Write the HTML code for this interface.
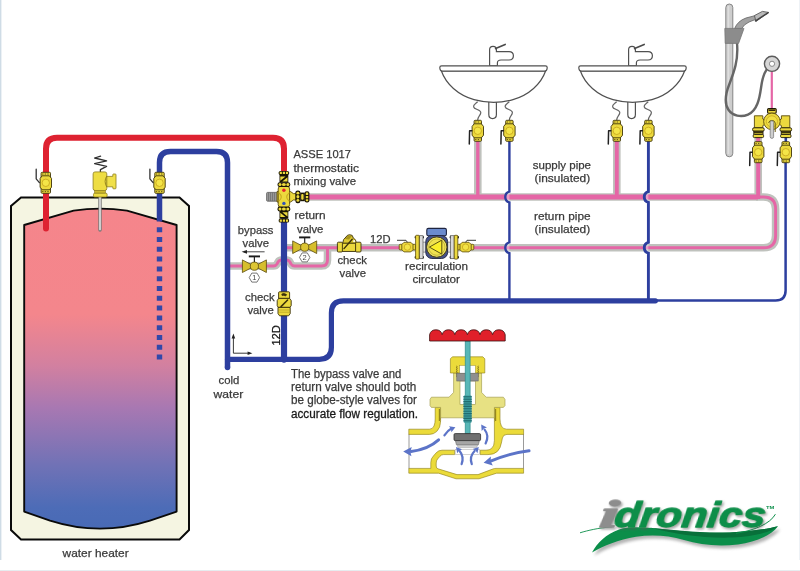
<!DOCTYPE html>
<html lang="en">
<head>
<meta charset="utf-8">
<title>Hot water recirculation with thermostatic mixing valve</title>
<style>
html,body{margin:0;padding:0;background:#fff;}
body{width:800px;height:571px;overflow:hidden;}
svg{display:block;opacity:0.999;}
svg text{font-family:"Liberation Sans",sans-serif;}
</style>
</head>
<body>
<svg width="800" height="571" viewBox="0 0 800 571">
<defs>
<linearGradient id="tankg" x1="0" y1="208" x2="0" y2="530" gradientUnits="userSpaceOnUse">
<stop offset="0" stop-color="#f5858b"/>
<stop offset="0.33" stop-color="#f4868c"/>
<stop offset="0.49" stop-color="#d280a0"/>
<stop offset="0.62" stop-color="#a878b2"/>
<stop offset="0.8" stop-color="#7072b6"/>
<stop offset="0.93" stop-color="#4d6cb7"/>
<stop offset="1" stop-color="#486ab5"/>
</linearGradient>
<filter id="blur" x="-10%" y="-30%" width="120%" height="160%"><feGaussianBlur stdDeviation="1.6"/></filter>
<filter id="ds" x="-10%" y="-30%" width="120%" height="170%"><feDropShadow dx="1.8" dy="1.8" stdDeviation="0.9" flood-color="#555" flood-opacity="0.5"/></filter>
</defs>
<rect width="800" height="571" fill="#fff"/>
<g id="tank">
<path d="M21 197.5 H179.5 L189 206 V530 L179.5 539.5 H21 L11 530 V206 Z" fill="#f5f5e2" stroke="#0a0a0a" stroke-width="2" stroke-linejoin="miter"/>
<path d="M24.2 225 L73.6 210.6 Q100 206.6 127 210.6 L176.6 225 V511.6 L150 520.6 Q100 536.6 50 520.6 L24.2 511.6 Z" fill="url(#tankg)" stroke="#0a0a0a" stroke-width="1.9" stroke-linejoin="round"/>
</g>
<path d="M306 197 H758" fill="none" stroke="#bfc2bd" stroke-width="7.6"/>
<path d="M477.8 197 V140" fill="none" stroke="#bfc2bd" stroke-width="7.6"/>
<path d="M616.8 197 V140" fill="none" stroke="#bfc2bd" stroke-width="7.6"/>
<path d="M758.2 199 V160" fill="none" stroke="#bfc2bd" stroke-width="7.6"/>
<path d="M756 197 H763.6 Q775.6 197 775.6 209 V235.4 Q775.6 247.7 763.6 247.7 H287 M327.5 247.7 V260 Q327.5 266 321.5 266 H294.6 Q292.2 266 291 264 L289.8 261.8 Q288.8 260 286.6 260 H281.4 Q279.2 260 278.2 261.8 L277 264 Q275.8 266 273.4 266 H228" fill="none" stroke="#bfc2bd" stroke-width="7.6"/>
<path d="M756 197 H763.6 Q775.6 197 775.6 209 V235.4 Q775.6 247.7 763.6 247.7 H287 M327.5 247.7 V260 Q327.5 266 321.5 266 H294.6 Q292.2 266 291 264 L289.8 261.8 Q288.8 260 286.6 260 H281.4 Q279.2 260 278.2 261.8 L277 264 Q275.8 266 273.4 266 H228" fill="none" stroke="#e566a6" stroke-width="2.9"/>
<path d="M477.8 197 V140" fill="none" stroke="#e566a6" stroke-width="3.3"/>
<path d="M616.8 197 V140" fill="none" stroke="#e566a6" stroke-width="3.9"/>
<path d="M758.2 199 V160" fill="none" stroke="#e566a6" stroke-width="4"/>
<path d="M306 197 H758" fill="none" stroke="#e566a6" stroke-width="5"/>
<path d="M771.8 70 V110" stroke="#e566a6" stroke-width="2.2" fill="none"/>
<path d="M509.4 191.6 A5.6 5.6 0 0 0 509.4 202.4 Z" fill="#fff" fill-opacity="0.35"/>
<path d="M509.4 242.29999999999998 A5.6 5.6 0 0 0 509.4 253.1 Z" fill="#fff" fill-opacity="0.35"/>
<path d="M509.4 140 V191.6 A5.6 5.6 0 0 0 509.4 202.4 V242.29999999999998 A5.6 5.6 0 0 0 509.4 253.1 V301" fill="none" stroke="#2d3f9f" stroke-width="2.4"/>
<path d="M648.4 191.6 A5.6 5.6 0 0 0 648.4 202.4 Z" fill="#fff" fill-opacity="0.35"/>
<path d="M648.4 242.29999999999998 A5.6 5.6 0 0 0 648.4 253.1 Z" fill="#fff" fill-opacity="0.35"/>
<path d="M648.4 140 V191.6 A5.6 5.6 0 0 0 648.4 202.4 V242.29999999999998 A5.6 5.6 0 0 0 648.4 253.1 V301" fill="none" stroke="#2d3f9f" stroke-width="2.9"/>
<path d="M785.6 160 V290.6 Q785.6 300.6 775.6 300.6 H655" fill="none" stroke="#2d3f9f" stroke-width="2.5"/>
<path d="M159.5 221.6 V162.6 Q159.5 151.6 170.5 151.6 H216.5 Q227.5 151.6 227.5 162.6 V367.6" fill="none" stroke="#2d3f9f" stroke-width="5.5"/>
<circle cx="227.5" cy="367.6" r="2.75" fill="#2d3f9f"/>
<path d="M159.5 227.2 V359.8" fill="none" stroke="#3048aa" stroke-width="5.4" stroke-dasharray="5 4.8"/>
<path d="M227.5 359.3 H319.4 Q331.4 359.3 331.4 347.3 V312.8 Q331.4 300.8 343.4 300.8 H655.4" fill="none" stroke="#2d3f9f" stroke-width="5.2" stroke-linecap="round"/>
<path d="M284 220 V359.6" fill="none" stroke="#2d3f9f" stroke-width="6.2" stroke-linecap="round"/>
<path d="M46 228.6 V148.8 Q46 137.8 57 137.8 H273 Q284 137.8 284 148.8 V173" fill="none" stroke="#de2231" stroke-width="6" stroke-linecap="round"/>
<g transform="translate(45.8 182.8)"><rect x="-4.7" y="-10.5" width="9.4" height="21" rx="1" fill="#ecd93e" stroke="#3e340a" stroke-width="0.9"/><path d="M-3.6 -7 H3.6 L5.7 -4.4 V4.4 L3.6 7 H-3.6 L-5.7 4.4 V-4.4 Z" fill="#ecd93e" stroke="#3e340a" stroke-width="0.9" stroke-linejoin="round"/><circle cx="0" cy="0" r="3.7" fill="#f4e548" stroke="#c9a91f" stroke-width="0.9"/><path d="M-3.7 -8.8 H3.7 M-3.7 8.8 H3.7" stroke="#3e340a" stroke-width="0.8" stroke-dasharray="1.4 1.2" fill="none"/><path d="M-9.6 -13.6 V-4 L-6.4 -0.2" fill="none" stroke="#333" stroke-width="1.3" stroke-linecap="round" stroke-linejoin="round"/></g>
<g transform="translate(159.5 182.8)"><rect x="-4.7" y="-10.5" width="9.4" height="21" rx="1" fill="#ecd93e" stroke="#3e340a" stroke-width="0.9"/><path d="M-3.6 -7 H3.6 L5.7 -4.4 V4.4 L3.6 7 H-3.6 L-5.7 4.4 V-4.4 Z" fill="#ecd93e" stroke="#3e340a" stroke-width="0.9" stroke-linejoin="round"/><circle cx="0" cy="0" r="3.7" fill="#f4e548" stroke="#c9a91f" stroke-width="0.9"/><path d="M-3.7 -8.8 H3.7 M-3.7 8.8 H3.7" stroke="#3e340a" stroke-width="0.8" stroke-dasharray="1.4 1.2" fill="none"/><path d="M-9.6 -13.6 V-4 L-6.4 -0.2" fill="none" stroke="#333" stroke-width="1.3" stroke-linecap="round" stroke-linejoin="round"/></g>
<g id="relief">
<path d="M100 230 V197" stroke="#777" stroke-width="3.4" stroke-linecap="round"/>
<path d="M100 229.4 V197" stroke="#d8d8d8" stroke-width="1.8" stroke-linecap="round"/>
<path d="M100.4 172.2 V169.6 L106.6 166.4 L94.6 163.6 L106.6 160.8 L94.6 158 L100.6 156.2" fill="none" stroke="#2e2e2e" stroke-width="1.3" stroke-linejoin="round" stroke-linecap="round"/>
<path d="M106.4 176.4 H112.8 V174.6 Q112.8 174 113.6 174 H115.2 Q116 174 116 174.8 V188 Q116 188.8 115.2 188.8 H113.6 Q112.8 188.8 112.8 188.2 V186.8 H106.4 Z" fill="#f0e04a" stroke="#8d7d1c" stroke-width="0.8" stroke-linejoin="round"/>
<rect x="93.1" y="171.9" width="13.7" height="18.6" rx="2" fill="#eedd42" stroke="#8d7d1c" stroke-width="0.8"/>
<path d="M106.8 176 Q103.4 181.4 106.8 187" fill="none" stroke="#8d7d1c" stroke-width="0.9"/>
<rect x="94.6" y="190.4" width="10.8" height="3.2" fill="#cdb92c" stroke="#8d7d1c" stroke-width="0.6"/>
<rect x="93.5" y="193.2" width="13.6" height="3.8" rx="1.2" fill="#eedd42" stroke="#8d7d1c" stroke-width="0.8"/>
</g>
<g id="mixv">
<rect x="266.6" y="192.4" width="11" height="8.8" rx="1" fill="#9c9c9c" stroke="#5a5a5a" stroke-width="0.8"/>
<path d="M268.6 192.6 V201 M270.6 192.6 V201 M272.6 192.6 V201 M274.6 192.6 V201" stroke="#6a6a6a" stroke-width="0.8"/>
<path d="M277 191.6 H290.6 L293.4 193.6 H296 V200 H293.4 L290.6 202 H277 Z" fill="#ecd93e" stroke="#5a4a0c" stroke-width="0.9"/>
<rect x="278.2" y="186" width="11.4" height="21.6" rx="3" fill="#ecd93e" stroke="#5a4a0c" stroke-width="0.9"/>
<path d="M278.6 192.6 Q284 197 278.6 201.2 M289.4 192.6 Q284 197 289.4 201.2" fill="none" stroke="#c9a91f" stroke-width="1.1"/>
<g transform="translate(283.9 171) scale(1 1)"><rect x="-5.2" y="0" width="10.4" height="4" rx="1.6" fill="#1a1505"/><path d="M-4.2 1.9 H4.2" stroke="#ecd93e" stroke-width="2.2" stroke-dasharray="2.2 0.9" stroke-linecap="butt"/><rect x="-4.4" y="4" width="8.8" height="7.6" fill="#1a1505"/><path d="M-3.6 5.6 H1.6 L-3.6 9.8 Z M3.6 10.4 H-1.6 L3.6 6.2 Z" fill="#ecd93e"/><rect x="-6.4" y="11.2" width="12.8" height="4.8" rx="2.2" fill="#1a1505"/><ellipse cx="-3.9" cy="13.6" rx="1.5" ry="1.5" fill="#ecd93e"/><ellipse cx="0" cy="13.6" rx="2" ry="1.5" fill="#ecd93e"/><ellipse cx="3.9" cy="13.6" rx="1.5" ry="1.5" fill="#ecd93e"/></g>
<g transform="translate(283.9 222.6) scale(1 -1)"><rect x="-5.2" y="0" width="10.4" height="4" rx="1.6" fill="#1a1505"/><path d="M-4.2 1.9 H4.2" stroke="#ecd93e" stroke-width="2.2" stroke-dasharray="2.2 0.9" stroke-linecap="butt"/><rect x="-4.4" y="4" width="8.8" height="7.6" fill="#1a1505"/><path d="M-3.6 5.6 H1.6 L-3.6 9.8 Z M3.6 10.4 H-1.6 L3.6 6.2 Z" fill="#ecd93e"/><rect x="-6.4" y="11.2" width="12.8" height="4.8" rx="2.2" fill="#1a1505"/><ellipse cx="-3.9" cy="13.6" rx="1.5" ry="1.5" fill="#ecd93e"/><ellipse cx="0" cy="13.6" rx="2" ry="1.5" fill="#ecd93e"/><ellipse cx="3.9" cy="13.6" rx="1.5" ry="1.5" fill="#ecd93e"/></g>
<rect x="295.4" y="190.4" width="5" height="12.8" rx="2.2" fill="#1a1505"/>
<ellipse cx="297.9" cy="193.2" rx="1.5" ry="1.4" fill="#ecd93e"/><ellipse cx="297.9" cy="196.8" rx="1.5" ry="1.8" fill="#ecd93e"/><ellipse cx="297.9" cy="200.4" rx="1.5" ry="1.4" fill="#ecd93e"/>
<rect x="300.2" y="192.6" width="4.6" height="8.6" fill="#1a1505"/>
<rect x="301.2" y="194" width="2.4" height="5.8" rx="1" fill="#ecd93e"/>
<rect x="304.6" y="191.2" width="4.8" height="11.4" rx="2" fill="#1a1505"/>
<path d="M307 192.6 V201.2" stroke="#ecd93e" stroke-width="2.4" stroke-dasharray="2.4 0.9"/>
<circle cx="283.9" cy="190.2" r="1.7" fill="#e8242c"/>
<circle cx="283.9" cy="203.4" r="1.7" fill="#3050b8"/>
</g>
<g transform="translate(254.4 266.2)"><path d="M-12 -6.3 L0 0 L-12 6.3 Z M12 -6.3 L0 0 L12 6.3 Z" fill="#d6be2c" stroke="#5a4a0c" stroke-width="0.8" stroke-linejoin="round"/><path d="M0 -4 V-9.6" stroke="#222" stroke-width="1.2"/><path d="M-5.6 -9.8 H5.6" stroke="#1a1a1a" stroke-width="1.9"/><circle cx="0" cy="0" r="4.1" fill="#dcc534" stroke="#5a4a0c" stroke-width="0.8"/></g>
<polygon points="259.60,277.60 257.00,282.10 251.80,282.10 249.20,277.60 251.80,273.10 257.00,273.10" fill="#fff" stroke="#555" stroke-width="0.8"/>
<text x="254.4" y="280.20000000000005" font-size="7.5" text-anchor="middle" fill="#444">1</text>
<g transform="translate(304.7 247.2)"><path d="M-12 -6.3 L0 0 L-12 6.3 Z M12 -6.3 L0 0 L12 6.3 Z" fill="#d6be2c" stroke="#5a4a0c" stroke-width="0.8" stroke-linejoin="round"/><path d="M0 -4 V-9.6" stroke="#222" stroke-width="1.2"/><path d="M-5.6 -9.8 H5.6" stroke="#1a1a1a" stroke-width="1.9"/><circle cx="0" cy="0" r="4.1" fill="#dcc534" stroke="#5a4a0c" stroke-width="0.8"/></g>
<polygon points="309.90,257.40 307.30,261.90 302.10,261.90 299.50,257.40 302.10,252.90 307.30,252.90" fill="#fff" stroke="#555" stroke-width="0.8"/>
<text x="304.7" y="260.0" font-size="7.5" text-anchor="middle" fill="#444">2</text>
<path d="M264.6 251.8 H244" stroke="#333" stroke-width="0.9" fill="none"/>
<path d="M241.6 251.8 L247 249.9 L247 253.7 Z" fill="#222"/>
<g id="chk_h">
<path d="M342.6 243.4 L343.6 239.6 L347.6 235.2 Q349.6 234.2 352.2 235.4 L353.4 238.2 Q356 238.8 356.4 243.4 Z" fill="#dcc832" stroke="#3a300a" stroke-width="0.9" stroke-linejoin="round"/>
<path d="M344.8 239 L348.2 235.6 L352 236 L349 239.6 Z" fill="#a8941c"/>
<circle cx="354.2" cy="241.2" r="1.1" fill="#fff" opacity="0.9"/>
<rect x="341.6" y="243.2" width="14.6" height="8.2" fill="#ecd93e" stroke="#3a300a" stroke-width="0.9"/>
<rect x="337.4" y="242.2" width="5" height="9.8" rx="1" fill="#ecd93e" stroke="#3a300a" stroke-width="0.9"/>
<rect x="355.6" y="242.2" width="5.4" height="9.8" rx="1" fill="#ecd93e" stroke="#3a300a" stroke-width="0.9"/>
<path d="M344 248.6 L352.2 239.2" stroke="#3a300a" stroke-width="1.4" stroke-linecap="round"/>
</g>
<g id="chk_v">
<path d="M279.4 291.8 H288.8 Q289.6 291.8 289.6 292.8 V298.4 H278.6 V292.8 Q278.6 291.8 279.4 291.8 Z" fill="#ecd93e" stroke="#3a300a" stroke-width="0.9" stroke-linejoin="round"/>
<path d="M278.6 298.4 H289.6 L291.2 300.6 V305.6 L290 307.4 H278.2 L277.2 305.6 V300.6 Z" fill="#ecd93e" stroke="#3a300a" stroke-width="0.9" stroke-linejoin="round"/>
<path d="M278 307.4 H290.2 V313.6 L288.6 315.8 H279.6 L278 313.6 Z" fill="#ecd93e" stroke="#3a300a" stroke-width="0.9" stroke-linejoin="round"/>
<path d="M279 310 H289.4 M279 312.2 H289.4" stroke="#b09c20" stroke-width="0.7"/>
<path d="M281 306.6 L287.6 300" stroke="#3a300a" stroke-width="1.5" stroke-linecap="round"/>
<path d="M281.8 294 Q284 292.8 286.6 294.6 L285.6 296 Q283.8 294.8 282.2 295.6 Z" fill="#3a300a" stroke="#3a300a" stroke-width="0.8" stroke-linejoin="round"/>
</g>
<text x="370" y="243.4" font-size="11.6" fill="#3a3a3a" stroke="#3a3a3a" stroke-width="0.25" text-anchor="start" textLength="20.5" lengthAdjust="spacingAndGlyphs">12D</text>
<text transform="translate(280.4 345.6) rotate(-90)" font-size="11.6" fill="#111" stroke="#111" stroke-width="0.25" textLength="20.5" lengthAdjust="spacingAndGlyphs">12D</text>
<path d="M233.4 336 V353.2 H250" fill="none" stroke="#222" stroke-width="0.9"/>
<path d="M233.4 333.6 L231.6 338.4 H235.2 Z M252.4 353.2 L247.6 351.4 V355 Z" fill="#222"/>
<g id="circ">
<rect x="399.2" y="244.29999999999998" width="16.4" height="5.6" rx="1" fill="#ecd93e" stroke="#5a4a0c" stroke-width="0.8"/><path d="M404.0 242.29999999999998 H410.79999999999995 L413.0 244.5 V249.7 L410.79999999999995 251.9 H404.0 L401.79999999999995 249.7 V244.5 Z" fill="#ecd93e" stroke="#5a4a0c" stroke-width="0.8" stroke-linejoin="round"/><circle cx="407.4" cy="247.1" r="3.2" fill="#f3e347" stroke="#c9a91f" stroke-width="0.9"/><path d="M407.4 242.29999999999998 L406.0 240.29999999999998 H397.0" fill="none" stroke="#3a3a3a" stroke-width="1" stroke-linejoin="round"/>
<rect x="457.40000000000003" y="244.29999999999998" width="16.4" height="5.6" rx="1" fill="#ecd93e" stroke="#5a4a0c" stroke-width="0.8"/><path d="M462.20000000000005 242.29999999999998 H469.0 L471.20000000000005 244.5 V249.7 L469.0 251.9 H462.20000000000005 L460.0 249.7 V244.5 Z" fill="#ecd93e" stroke="#5a4a0c" stroke-width="0.8" stroke-linejoin="round"/><circle cx="465.6" cy="247.1" r="3.2" fill="#f3e347" stroke="#c9a91f" stroke-width="0.9"/><path d="M465.6 242.29999999999998 L467.0 240.29999999999998 H476.0" fill="none" stroke="#3a3a3a" stroke-width="1" stroke-linejoin="round"/>
<rect x="422.6" y="242.1" width="28.6" height="10" fill="#e4e4e4" stroke="#777" stroke-width="0.7"/>
<rect x="414.6" y="235.9" width="9.4" height="2.6" rx="1" fill="#222"/>
<rect x="414.6" y="255.9" width="9.4" height="2.6" rx="1" fill="#222"/>
<rect x="419.4" y="235.7" width="3.6" height="23" fill="#d9d9d9" stroke="#555" stroke-width="0.7"/>
<rect x="415.6" y="235.29999999999998" width="3.6" height="23.8" rx="0.8" fill="#ecd93e" stroke="#5a4a0c" stroke-width="0.8"/>
<rect x="449.6" y="235.9" width="9.4" height="2.6" rx="1" fill="#222"/>
<rect x="449.6" y="255.9" width="9.4" height="2.6" rx="1" fill="#222"/>
<rect x="450.6" y="235.7" width="3.6" height="23" fill="#d9d9d9" stroke="#555" stroke-width="0.7"/>
<rect x="454.2" y="235.29999999999998" width="3.6" height="23.8" rx="0.8" fill="#ecd93e" stroke="#5a4a0c" stroke-width="0.8"/>
<rect x="426.8" y="228.4" width="19.6" height="7.4" rx="1.6" fill="#6b8bcd" stroke="#1e2440" stroke-width="1.1"/>
<rect x="425.8" y="235.5" width="21.8" height="23" rx="6" fill="#46528a" stroke="#1e2440" stroke-width="0.9"/>
<circle cx="436.8" cy="247.1" r="10.2" fill="#eee468" stroke="#4a4210" stroke-width="1"/>
<circle cx="436.8" cy="247.1" r="8.2" fill="#efe250" stroke="#b8a62a" stroke-width="0.7"/>
<path d="M429.4 247.1 L441.8 240.1 V254.1 Z" fill="#fbef2a" stroke="#4a4210" stroke-width="0.9" stroke-linejoin="round"/>
</g>
<g transform="translate(0 0)" fill="#fff" stroke="#505050" stroke-width="1.2"><path d="M477.6 101.6 C476.6 103 473.20000000000005 104.4 473.6 106.8 C474.0 109.6 481.0 109.6 480.8 112.6 C480.6 115.6 477.6 116.6 477.6 120.4" fill="none" stroke="#666" stroke-width="1.2"/><path d="M509.2 101.6 C508.2 103 504.8 104.4 505.2 106.8 C505.59999999999997 109.6 512.6 109.6 512.4 112.6 C512.2 115.6 509.2 116.6 509.2 120.4" fill="none" stroke="#666" stroke-width="1.2"/><path d="M488.8 100 V114.6 Q488.8 118.6 492.6 118.6 Q496.4 118.6 496.4 114.6 V100 Z"/><path d="M441.4 71 C446 84 458 95 474 99.6 C487 103.2 500 103.2 513 99.6 C529 95 541 84 545.6 71 Z"/><path d="M489.6 65.8 V49.8 Q489.6 46.4 493 46.4 Q496.4 46.4 496.4 49.8 V51.6 H509 Q513.4 51.6 513.4 55.8 Q513.4 60 509 60 H501 Q497.4 60 497.4 63 V65.8 Z"/><path d="M495.6 48.6 L505.2 44.4" fill="none" stroke="#4a4a4a" stroke-width="1.6" stroke-linecap="round"/><path d="M441.6 65.8 H545.4 Q547.2 65.8 547.2 67.6 Q547.2 71.2 544.4 71.2 H442.6 Q439.8 71.2 439.8 67.6 Q439.8 65.8 441.6 65.8 Z"/></g>
<g transform="translate(139 0)" fill="#fff" stroke="#505050" stroke-width="1.2"><path d="M477.6 101.6 C476.6 103 473.20000000000005 104.4 473.6 106.8 C474.0 109.6 481.0 109.6 480.8 112.6 C480.6 115.6 477.6 116.6 477.6 120.4" fill="none" stroke="#666" stroke-width="1.2"/><path d="M509.2 101.6 C508.2 103 504.8 104.4 505.2 106.8 C505.59999999999997 109.6 512.6 109.6 512.4 112.6 C512.2 115.6 509.2 116.6 509.2 120.4" fill="none" stroke="#666" stroke-width="1.2"/><path d="M488.8 100 V114.6 Q488.8 118.6 492.6 118.6 Q496.4 118.6 496.4 114.6 V100 Z"/><path d="M441.4 71 C446 84 458 95 474 99.6 C487 103.2 500 103.2 513 99.6 C529 95 541 84 545.6 71 Z"/><path d="M489.6 65.8 V49.8 Q489.6 46.4 493 46.4 Q496.4 46.4 496.4 49.8 V51.6 H509 Q513.4 51.6 513.4 55.8 Q513.4 60 509 60 H501 Q497.4 60 497.4 63 V65.8 Z"/><path d="M495.6 48.6 L505.2 44.4" fill="none" stroke="#4a4a4a" stroke-width="1.6" stroke-linecap="round"/><path d="M441.6 65.8 H545.4 Q547.2 65.8 547.2 67.6 Q547.2 71.2 544.4 71.2 H442.6 Q439.8 71.2 439.8 67.6 Q439.8 65.8 441.6 65.8 Z"/></g>
<g transform="translate(477.8 130.8)"><rect x="-3.7" y="-10.5" width="7.4" height="21" rx="1" fill="#ecd93e" stroke="#3e340a" stroke-width="0.9"/><path d="M-3.6 -7 H3.6 L5.7 -4.4 V4.4 L3.6 7 H-3.6 L-5.7 4.4 V-4.4 Z" fill="#ecd93e" stroke="#3e340a" stroke-width="0.9" stroke-linejoin="round"/><circle cx="0" cy="0" r="3.7" fill="#f4e548" stroke="#c9a91f" stroke-width="0.9"/><path d="M-2.7 -8.8 H2.7 M-2.7 8.8 H2.7" stroke="#3e340a" stroke-width="0.8" stroke-dasharray="1.4 1.2" fill="none"/><path d="M-6 0 H-8.2 L-8.5 13.2" fill="none" stroke="#222" stroke-width="1.5" stroke-linecap="round" stroke-linejoin="round"/></g>
<g transform="translate(509.4 130.8)"><rect x="-3.7" y="-10.5" width="7.4" height="21" rx="1" fill="#ecd93e" stroke="#3e340a" stroke-width="0.9"/><path d="M-3.6 -7 H3.6 L5.7 -4.4 V4.4 L3.6 7 H-3.6 L-5.7 4.4 V-4.4 Z" fill="#ecd93e" stroke="#3e340a" stroke-width="0.9" stroke-linejoin="round"/><circle cx="0" cy="0" r="3.7" fill="#f4e548" stroke="#c9a91f" stroke-width="0.9"/><path d="M-2.7 -8.8 H2.7 M-2.7 8.8 H2.7" stroke="#3e340a" stroke-width="0.8" stroke-dasharray="1.4 1.2" fill="none"/><path d="M-6 0 H-8.2 L-8.5 13.2" fill="none" stroke="#222" stroke-width="1.5" stroke-linecap="round" stroke-linejoin="round"/></g>
<g transform="translate(616.8 130.8)"><rect x="-3.7" y="-10.5" width="7.4" height="21" rx="1" fill="#ecd93e" stroke="#3e340a" stroke-width="0.9"/><path d="M-3.6 -7 H3.6 L5.7 -4.4 V4.4 L3.6 7 H-3.6 L-5.7 4.4 V-4.4 Z" fill="#ecd93e" stroke="#3e340a" stroke-width="0.9" stroke-linejoin="round"/><circle cx="0" cy="0" r="3.7" fill="#f4e548" stroke="#c9a91f" stroke-width="0.9"/><path d="M-2.7 -8.8 H2.7 M-2.7 8.8 H2.7" stroke="#3e340a" stroke-width="0.8" stroke-dasharray="1.4 1.2" fill="none"/><path d="M-6 0 H-8.2 L-8.5 13.2" fill="none" stroke="#222" stroke-width="1.5" stroke-linecap="round" stroke-linejoin="round"/></g>
<g transform="translate(648.4 130.8)"><rect x="-3.7" y="-10.5" width="7.4" height="21" rx="1" fill="#ecd93e" stroke="#3e340a" stroke-width="0.9"/><path d="M-3.6 -7 H3.6 L5.7 -4.4 V4.4 L3.6 7 H-3.6 L-5.7 4.4 V-4.4 Z" fill="#ecd93e" stroke="#3e340a" stroke-width="0.9" stroke-linejoin="round"/><circle cx="0" cy="0" r="3.7" fill="#f4e548" stroke="#c9a91f" stroke-width="0.9"/><path d="M-2.7 -8.8 H2.7 M-2.7 8.8 H2.7" stroke="#3e340a" stroke-width="0.8" stroke-dasharray="1.4 1.2" fill="none"/><path d="M-6 0 H-8.2 L-8.5 13.2" fill="none" stroke="#222" stroke-width="1.5" stroke-linecap="round" stroke-linejoin="round"/></g>
<g id="shower">
<rect x="725.8" y="4" width="7" height="152.8" rx="3.5" fill="#cdcdcd" stroke="#858585" stroke-width="1"/>
<path d="M728.4 6 V154" stroke="#dedede" stroke-width="1.6"/>
<path d="M737 43 C738.6 60 734 72 729.4 84 C724.6 96 724.4 104 728.6 110 C732.6 115.8 741 117.6 748 114.6 C757.4 110.6 759.6 98 761 88 C762 80 763.6 74 766.6 69.6" fill="none" stroke="#666" stroke-width="2.4" stroke-linecap="round"/>
<path d="M734.6 28.6 Q737.6 21 746 18 L756 15.4 L757.6 18.6 L749 22 Q743.6 24.6 741.6 28.6 Z" fill="#a2a2a2" stroke="#6a6a6a" stroke-width="0.9" stroke-linejoin="round"/>
<path d="M754.4 15.6 L762.4 11.4 L768.6 12.4 L756 21.4 Z" fill="#b9b9b9" stroke="#5a5a5a" stroke-width="0.9" stroke-linejoin="round"/>
<path d="M755.6 20.8 L768 12.8" stroke="#444" stroke-width="1.6" stroke-linecap="round"/>
<path d="M724.8 28.4 H744 L738.6 43.4 H725.2 Z" fill="#8c8c8c" stroke="#787878" stroke-width="0.8" stroke-linejoin="round"/>
<circle cx="772" cy="63.8" r="7.6" fill="#d6d6d6" stroke="#5c5c5c" stroke-width="1.4"/>
<circle cx="772" cy="63.8" r="2.6" fill="#fff" stroke="#8a8a8a" stroke-width="1"/>
<path d="M758.2 137 V143" stroke="#bfc2bd" stroke-width="7.6"/>
<path d="M758.2 137 V143" stroke="#e566a6" stroke-width="4"/>
<path d="M785.8 137 V143" stroke="#2d3f9f" stroke-width="2.6"/>
<path d="M754.4 115.8 H762.8 V119 Q765 120 766 121.4 V123 Q764.6 125 762.8 125.6 V127.8 H754.4 Z" fill="#ecd93e" stroke="#5a4a0c" stroke-width="0.9" stroke-linejoin="round"/>
<path d="M789.8 115.8 H781.4 V119 Q779.2 120 778.2 121.4 V123 Q779.6 125 781.4 125.6 V127.8 H789.8 Z" fill="#ecd93e" stroke="#5a4a0c" stroke-width="0.9" stroke-linejoin="round"/>
<rect x="767.6" y="108.6" width="8.6" height="4.6" rx="1" fill="#ecd93e" stroke="#1c1605" stroke-width="1.1"/>
<path d="M768.6 110.2 H775.2" stroke="#1c1605" stroke-width="1.4"/>
<circle cx="771.9" cy="121.4" r="8.3" fill="#ecd93e" stroke="#5a4a0c" stroke-width="0.9"/>
<circle cx="771.9" cy="121.4" r="5.6" fill="#f1e044" stroke="#c9a91f" stroke-width="0.8"/>
<path d="M768.6 123 A3.4 3.4 0 0 1 775.2 123 V132" fill="none" stroke="#6a5a10" stroke-width="1"/>
<rect x="770.2" y="120.8" width="3.4" height="17.6" rx="1.7" fill="#cfcfcf" stroke="#7d7d7d" stroke-width="0.8"/>
<rect x="752.6" y="127.8" width="11.6" height="3.4" rx="1.4" fill="#ecd93e" stroke="#1c1605" stroke-width="0.9"/>
<rect x="753.8" y="131.2" width="9.2" height="3" fill="#ecd93e" stroke="#1c1605" stroke-width="0.9"/>
<path d="M754.0 132.2 H762.8" stroke="#1c1605" stroke-width="1.3"/>
<rect x="753.1999999999999" y="134.4" width="10.4" height="3.2" rx="1.2" fill="#ecd93e" stroke="#1c1605" stroke-width="0.9"/>
<rect x="780.0" y="127.8" width="11.6" height="3.4" rx="1.4" fill="#ecd93e" stroke="#1c1605" stroke-width="0.9"/>
<rect x="781.1999999999999" y="131.2" width="9.2" height="3" fill="#ecd93e" stroke="#1c1605" stroke-width="0.9"/>
<path d="M781.4 132.2 H790.1999999999999" stroke="#1c1605" stroke-width="1.3"/>
<rect x="780.5999999999999" y="134.4" width="10.4" height="3.2" rx="1.2" fill="#ecd93e" stroke="#1c1605" stroke-width="0.9"/>
</g>
<g transform="translate(758.2 152.2)"><rect x="-3.8" y="-10.5" width="7.6" height="21" rx="1" fill="#ecd93e" stroke="#3e340a" stroke-width="0.9"/><path d="M-3.6 -7 H3.6 L5.7 -4.4 V4.4 L3.6 7 H-3.6 L-5.7 4.4 V-4.4 Z" fill="#ecd93e" stroke="#3e340a" stroke-width="0.9" stroke-linejoin="round"/><circle cx="0" cy="0" r="3.7" fill="#f4e548" stroke="#c9a91f" stroke-width="0.9"/><path d="M-2.8 -8.8 H2.8 M-2.8 8.8 H2.8" stroke="#3e340a" stroke-width="0.8" stroke-dasharray="1.4 1.2" fill="none"/><path d="M-6 0 H-8.2 L-8.5 13.2" fill="none" stroke="#222" stroke-width="1.5" stroke-linecap="round" stroke-linejoin="round"/></g>
<g transform="translate(785.8 152.2)"><rect x="-3.8" y="-10.5" width="7.6" height="21" rx="1" fill="#ecd93e" stroke="#3e340a" stroke-width="0.9"/><path d="M-3.6 -7 H3.6 L5.7 -4.4 V4.4 L3.6 7 H-3.6 L-5.7 4.4 V-4.4 Z" fill="#ecd93e" stroke="#3e340a" stroke-width="0.9" stroke-linejoin="round"/><circle cx="0" cy="0" r="3.7" fill="#f4e548" stroke="#c9a91f" stroke-width="0.9"/><path d="M-2.8 -8.8 H2.8 M-2.8 8.8 H2.8" stroke="#3e340a" stroke-width="0.8" stroke-dasharray="1.4 1.2" fill="none"/><path d="M-6 0 H-8.2 L-8.5 13.2" fill="none" stroke="#222" stroke-width="1.5" stroke-linecap="round" stroke-linejoin="round"/></g>
<g id="cutaway">
<path d="M409 434 V468.6 M523.5 434 V468.6" stroke="#8e8e8e" stroke-width="0.9"/>
<path d="M408.8 429.2 H429.4 Q432.6 429.2 434 426 Q435.2 423 435.2 419 V407.6 H440.6 V421 Q440.6 428 436.6 431.6 Q433.6 434.4 429.4 434.4 H408.8 Z" fill="#ebdb3a" stroke="#8a7a14" stroke-width="0.6" stroke-linejoin="round"/>
<path d="M523.6 429.2 H506.6 Q503 429.2 501.4 426 Q500 423 500 419 V407.6 H494.4 V440.6 Q494.4 446 491.6 448.4 Q489.6 450.2 486 450.2 H480.2 V454.6 H488 Q494 454.6 497.4 451.4 Q500.6 448.4 501.6 442 L502.4 438 Q503.2 434.4 507 434.4 H523.6 Z" fill="#ebdb3a" stroke="#8a7a14" stroke-width="0.6" stroke-linejoin="round"/>
<path d="M408.8 468.4 H430.8 V462.4 Q430.8 458.6 433.4 456 L436.4 452.6 Q438.6 450.2 442 450.2 H454.6 V454.6 H443.6 Q441.4 454.6 440 456.2 L437.6 459 Q436.2 460.6 436.2 463 V466 Q436.2 468.4 438 468.8 L457 474.6 H478 L493.4 468.8 Q494.6 468.4 496 468.4 H523.6 V473.2 H496.6 L479 478.8 H456 L438.6 473.2 H408.8 Z" fill="#ebdb3a" stroke="#8a7a14" stroke-width="0.6" stroke-linejoin="round"/>
<path d="M440.4 409 l-1.6 1 l1.6 1 l-1.6 1 l1.6 1 l-1.6 1 l1.6 1 l-1.6 1 l1.6 1 l-1.6 1 l1.6 1 l-1.6 1 l1.6 1 M494.6 409 l1.6 1 l-1.6 1 l1.6 1 l-1.6 1 l1.6 1 l-1.6 1 l1.6 1 l-1.6 1 l1.6 1 l-1.6 1 l1.6 1 l-1.6 1" fill="none" stroke="#6a5c10" stroke-width="0.7"/>
<path d="M431.4 397.2 H449 L453.6 392.4 V373 H481.6 V392.4 L486.2 397.2 H503.4 L505 399.4 V405.6 L503.4 407.4 H494.4 V417.8 H440.6 V407.4 H431.4 L430 405.6 V399.4 Z" fill="#e7e183" stroke="#9a9440" stroke-width="0.6" stroke-linejoin="round"/>
<path d="M452.4 356.8 H482.8 L484.8 358.8 V373 H450.4 V358.8 Z" fill="#ebdb3a" stroke="#8a7a14" stroke-width="0.6" stroke-linejoin="round"/>
<rect x="459.6" y="365.4" width="15.8" height="8" fill="#fff" stroke="#9a8c2a" stroke-width="0.5"/>
<rect x="460" y="381" width="15.4" height="23.4" fill="#fff" stroke="#9a944a" stroke-width="0.6"/>
<path d="M456.2 366 q2.4 0.8 0 1.8 q2.4 0.8 0 1.8 q2.4 0.8 0 1.8 q2.4 0.8 0 1.8 q2.4 0.8 0 1.8 q2.4 0.8 0 1.8 M478.8 366 q-2.4 0.8 0 1.8 q-2.4 0.8 0 1.8 q-2.4 0.8 0 1.8 q-2.4 0.8 0 1.8 q-2.4 0.8 0 1.8 q-2.4 0.8 0 1.8" fill="none" stroke="#6a5c10" stroke-width="0.7"/>
<rect x="456.8" y="373.2" width="21.4" height="7.8" fill="#8f8f8f" stroke="#666" stroke-width="0.6"/>
<rect x="465.2" y="341" width="4.9" height="92.6" fill="#58b7b7" stroke="#2f8a8c" stroke-width="0.7"/>
<rect x="463.6" y="395.4" width="8" height="27.4" rx="1" fill="#3c9b9d"/>
<path d="M463.4 396.8 h8.4 M463.4 399.2 h8.4 M463.4 401.6 h8.4 M463.4 404 h8.4 M463.4 406.4 h8.4 M463.4 408.8 h8.4 M463.4 411.2 h8.4 M463.4 413.6 h8.4 M463.4 416 h8.4 M463.4 418.4 h8.4 M463.4 420.8 h8.4" stroke="#1f6c70" stroke-width="1.1"/>
<rect x="455.2" y="449.6" width="24.4" height="4.8" fill="#fff" stroke="#b5b5b5" stroke-width="0.6"/>
<path d="M457 444.6 H477.8 L476.6 447.6 H458.2 Z" fill="#d0d0d0" stroke="#9a9a9a" stroke-width="0.5"/>
<path d="M455.4 440.4 H479.4 L478.4 444.8 H456.4 Z" fill="#a6a6a6" stroke="#666" stroke-width="0.6"/>
<rect x="454" y="433.6" width="26.6" height="7" rx="1.2" fill="#707070" stroke="#2e2e2e" stroke-width="0.8"/>
<path d="M429.6 341 V334.6 A6.50 6.4 0 0 1 442.20 334.6 A6.50 6.4 0 0 1 454.80 334.6 A6.50 6.4 0 0 1 467.40 334.6 A6.50 6.4 0 0 1 480.00 334.6 A6.50 6.4 0 0 1 492.60 334.6 A6.50 6.4 0 0 1 505.20 334.6 V341 Z" fill="#e0202a" stroke="#3a1010" stroke-width="0.8" stroke-linejoin="round"/>
<path d="M529 450.8 Q508 453.6 490 461.4" fill="none" stroke="#5c74c8" stroke-width="3" stroke-linecap="round"/>
<path transform="translate(483.6 462.8) rotate(168)" d="M0 0 L-8.4 -4.6 L-7.224 0 L-8.4 4.6 Z" fill="#5c74c8"/>
<path d="M438.6 439.8 Q428 449.4 411 451.4" fill="none" stroke="#5c74c8" stroke-width="3" stroke-linecap="round"/>
<path transform="translate(403.2 451.4) rotate(182)" d="M0 0 L-8.4 -4.6 L-7.224 0 L-8.4 4.6 Z" fill="#5c74c8"/>
<path d="M444.4 435.4 Q447.6 430.6 451 428.8" fill="none" stroke="#5c74c8" stroke-width="2.2" stroke-linecap="round"/>
<path transform="translate(455.4 427.2) rotate(-22)" d="M0 0 L-5.6 -3.2 L-4.816 0 L-5.6 3.2 Z" fill="#5c74c8"/>
<path d="M485.6 443.4 Q489.6 435.6 484.6 429.6" fill="none" stroke="#5c74c8" stroke-width="2.2" stroke-linecap="round"/>
<path transform="translate(481.2 424.6) rotate(-124)" d="M0 0 L-5.6 -3.2 L-4.816 0 L-5.6 3.2 Z" fill="#5c74c8"/>
<path d="M461.6 464.2 Q464.4 456.6 459.6 451" fill="none" stroke="#5c74c8" stroke-width="2.2" stroke-linecap="round"/>
<path transform="translate(456 447) rotate(-130)" d="M0 0 L-5.6 -3.2 L-4.816 0 L-5.6 3.2 Z" fill="#5c74c8"/>
<path d="M471.8 464.2 Q469 456.6 474.6 451" fill="none" stroke="#5c74c8" stroke-width="2.2" stroke-linecap="round"/>
<path transform="translate(478.8 447) rotate(-48)" d="M0 0 L-5.6 -3.2 L-4.816 0 L-5.6 3.2 Z" fill="#5c74c8"/>
</g>
<text x="293.4" y="158" font-size="11.6" fill="#3a3a3a" stroke="#3a3a3a" stroke-width="0.25" text-anchor="start" textLength="57.6" lengthAdjust="spacingAndGlyphs">ASSE 1017</text>
<text x="293.4" y="171.8" font-size="11.6" fill="#3a3a3a" stroke="#3a3a3a" stroke-width="0.25" text-anchor="start" textLength="65.6" lengthAdjust="spacingAndGlyphs">thermostatic</text>
<text x="293.4" y="185" font-size="11.6" fill="#3a3a3a" stroke="#3a3a3a" stroke-width="0.25" text-anchor="start" textLength="62.6" lengthAdjust="spacingAndGlyphs">mixing valve</text>
<text x="294.6" y="219.2" font-size="11.6" fill="#3a3a3a" stroke="#3a3a3a" stroke-width="0.25" text-anchor="start" textLength="31" lengthAdjust="spacingAndGlyphs">return</text>
<text x="297" y="232.6" font-size="11.6" fill="#3a3a3a" stroke="#3a3a3a" stroke-width="0.25" text-anchor="start" textLength="26.4" lengthAdjust="spacingAndGlyphs">valve</text>
<text x="237.8" y="234.2" font-size="11.6" fill="#3a3a3a" stroke="#3a3a3a" stroke-width="0.25" text-anchor="start" textLength="35.6" lengthAdjust="spacingAndGlyphs">bypass</text>
<text x="242.6" y="247.4" font-size="11.6" fill="#3a3a3a" stroke="#3a3a3a" stroke-width="0.25" text-anchor="start" textLength="26.4" lengthAdjust="spacingAndGlyphs">valve</text>
<text x="337.4" y="264" font-size="11.6" fill="#3a3a3a" stroke="#3a3a3a" stroke-width="0.25" text-anchor="start" textLength="29.6" lengthAdjust="spacingAndGlyphs">check</text>
<text x="339.6" y="277.4" font-size="11.6" fill="#3a3a3a" stroke="#3a3a3a" stroke-width="0.25" text-anchor="start" textLength="26.4" lengthAdjust="spacingAndGlyphs">valve</text>
<text x="245" y="300.8" font-size="11.6" fill="#3a3a3a" stroke="#3a3a3a" stroke-width="0.25" text-anchor="start" textLength="29.6" lengthAdjust="spacingAndGlyphs">check</text>
<text x="247.4" y="314.2" font-size="11.6" fill="#3a3a3a" stroke="#3a3a3a" stroke-width="0.25" text-anchor="start" textLength="26.4" lengthAdjust="spacingAndGlyphs">valve</text>
<text x="405" y="269.6" font-size="11.6" fill="#3a3a3a" stroke="#3a3a3a" stroke-width="0.25" text-anchor="start" textLength="63" lengthAdjust="spacingAndGlyphs">recirculation</text>
<text x="412.4" y="283" font-size="11.6" fill="#3a3a3a" stroke="#3a3a3a" stroke-width="0.25" text-anchor="start" textLength="47.6" lengthAdjust="spacingAndGlyphs">circulator</text>
<text x="532.8" y="169.3" font-size="11.6" fill="#3a3a3a" stroke="#3a3a3a" stroke-width="0.25" text-anchor="start" textLength="58.2" lengthAdjust="spacingAndGlyphs">supply pipe</text>
<text x="534.6" y="181.6" font-size="11.6" fill="#3a3a3a" stroke="#3a3a3a" stroke-width="0.25" text-anchor="start" textLength="55.6" lengthAdjust="spacingAndGlyphs">(insulated)</text>
<text x="534" y="220.2" font-size="11.6" fill="#3a3a3a" stroke="#3a3a3a" stroke-width="0.25" text-anchor="start" textLength="56.6" lengthAdjust="spacingAndGlyphs">return pipe</text>
<text x="534.6" y="233" font-size="11.6" fill="#3a3a3a" stroke="#3a3a3a" stroke-width="0.25" text-anchor="start" textLength="55.6" lengthAdjust="spacingAndGlyphs">(insulated)</text>
<text x="218.6" y="384.4" font-size="11.6" fill="#3a3a3a" stroke="#3a3a3a" stroke-width="0.25" text-anchor="start" textLength="20.8" lengthAdjust="spacingAndGlyphs">cold</text>
<text x="213.6" y="397.8" font-size="11.6" fill="#3a3a3a" stroke="#3a3a3a" stroke-width="0.25" text-anchor="start" textLength="29.6" lengthAdjust="spacingAndGlyphs">water</text>
<text x="62.6" y="556.6" font-size="11.6" fill="#3a3a3a" stroke="#3a3a3a" stroke-width="0.25" text-anchor="start" textLength="66" lengthAdjust="spacingAndGlyphs">water heater</text>
<text x="291" y="377.6" font-size="12" fill="#3a3a3a" stroke="#3a3a3a" stroke-width="0.25" text-anchor="start" textLength="110.4" lengthAdjust="spacingAndGlyphs">The bypass valve and</text>
<text x="291" y="390.6" font-size="12" fill="#3a3a3a" stroke="#3a3a3a" stroke-width="0.25" text-anchor="start" textLength="125.4" lengthAdjust="spacingAndGlyphs">return valve should both</text>
<text x="291" y="404.4" font-size="12" fill="#3a3a3a" stroke="#3a3a3a" stroke-width="0.25" text-anchor="start" textLength="126" lengthAdjust="spacingAndGlyphs">be globe-style valves for</text>
<text x="291" y="418" font-size="12" fill="#1a1a1a" stroke="#1a1a1a" stroke-width="0.3" text-anchor="start" textLength="127" lengthAdjust="spacingAndGlyphs">accurate flow regulation.</text>
<g id="logo">
<path d="M592 552.4 C597 543 606 534 619 529.4 C632 525.8 650 527.6 668 529.8 C690 532.4 712 533.4 730 532.4 C750 531.2 766 529.2 778 526.2 C771 535.6 756 541.8 738 544.4 C718 546.8 700 544.8 684 540 C668 535.4 652 534.4 636 536.8 C618 539.6 604 546 592 552.4 Z" fill="#777" opacity="0.55" transform="translate(2.2 3)" filter="url(#blur)"/>
<path d="M592 552.4 C597 543 606 534 619 529.4 C632 525.8 650 527.6 668 529.8 C690 532.4 712 533.4 730 532.4 C750 531.2 766 529.2 778 526.2 C771 535.6 756 541.8 738 544.4 C718 546.8 700 544.8 684 540 C668 535.4 652 534.4 636 536.8 C618 539.6 604 546 592 552.4 Z" fill="#0b8e4a"/>
<path d="M650 527.8 C672 530 700 533.4 730 532.4 C750 531.2 766 529.2 778 526.2 C770 532.6 752 536.8 732 537.6 C704 538.6 676 534.2 650 527.8 Z" fill="#08703a"/>
<path d="M580 532.8 C588 530.4 598 528 612 526.8" fill="none" stroke="#0b8e4a" stroke-width="0.9"/>
<path d="M736 533.4 C754 530.4 770 524 775.4 514.2" fill="none" stroke="#0b8e4a" stroke-width="1"/>
<g transform="translate(0 526.6) skewX(-7) translate(0 -526.6)" filter="url(#ds)">
<text x="598.6" y="526.6" font-weight="bold" font-style="italic" font-size="34.2" stroke-width="1.3" stroke-linejoin="round"><tspan style="font-family:&quot;Liberation Serif&quot;,serif" font-size="38" fill="#8d8d8d" stroke="#8d8d8d" textLength="19" lengthAdjust="spacingAndGlyphs">i</tspan><tspan x="613.4" fill="#0b8e4a" stroke="#0b8e4a" textLength="151" lengthAdjust="spacingAndGlyphs">dronics</tspan></text>
</g>
<text x="766" y="509" font-size="4.4" font-weight="bold" fill="#0b8e4a" textLength="8.4" lengthAdjust="spacingAndGlyphs">TM</text>
</g>
<rect x="0" y="0" width="1.4" height="560" fill="#cfdce6"/>
<rect x="0" y="570" width="800" height="1" fill="#e6ecef"/>
<rect x="799" y="0" width="1" height="560" fill="#eef2f6"/>
</svg>
</body>
</html>
